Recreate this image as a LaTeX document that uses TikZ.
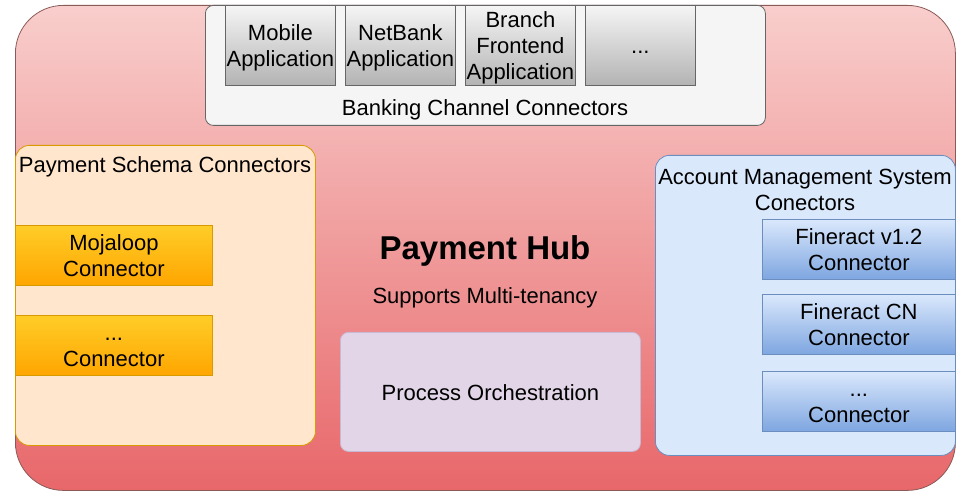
\documentclass[tikz,border=0pt]{standalone}
\usepackage{fontspec}
\setmainfont{Liberation Sans}
\definecolor{hubtop}{HTML}{F8CECC}
\definecolor{hubbot}{HTML}{E8676A}
\definecolor{hubline}{HTML}{8A5A58}
\definecolor{chanfill}{HTML}{F5F5F5}
\definecolor{chanbot}{HTML}{B3B3B3}
\definecolor{chanline}{HTML}{666666}
\definecolor{schemfill}{HTML}{FFE6CC}
\definecolor{schemtop}{HTML}{FFCD28}
\definecolor{schembot}{HTML}{FFA500}
\definecolor{schemline}{HTML}{D79B00}
\definecolor{acctfill}{HTML}{DAE8FC}
\definecolor{acctbot}{HTML}{7EA6E0}
\definecolor{acctline}{HTML}{6C8EBF}
\definecolor{procfill}{HTML}{E1D5E7}
\definecolor{procline}{HTML}{C9B8D3}
\newcommand\boxstrut{\rule[-0.18em]{0pt}{1.1em}}
\tikzset{
  box/.style={anchor=north west, inner sep=0pt, font=\fontsize{11}{13}\selectfont, align=flush center,
    execute at begin node=\boxstrut, execute at end node=\boxstrut},
  appbox/.style={box, text width=55pt, top color=chanfill, bottom color=chanbot, draw=chanline, minimum width=55pt, minimum height=40pt},
  schembox/.style={box, text width=98.5pt, top color=schemtop, bottom color=schembot, draw=schemline, minimum width=98.5pt, minimum height=30pt},
  acctbox/.style={box, text width=96.5pt, top color=acctfill, bottom color=acctbot, draw=acctline, minimum width=96.5pt, minimum height=30pt},
  group/.style={box, rounded corners=7pt, minimum width=150pt, minimum height=150pt},
  label/.style={inner sep=0pt, font=\fontsize{11}{13}\selectfont, align=flush center,
    execute at begin node=\boxstrut, execute at end node=\boxstrut}
}
\begin{document}
\begin{tikzpicture}[x=0.5pt,y=-0.5pt]
  \useasboundingbox (0,0) rectangle (957,491);
  % payment hub
  \node[box, rounded corners=24pt, top color=hubtop, bottom color=hubbot, draw=hubline, minimum width=470pt, minimum height=242.5pt] (hub) at (15,5) {};
  % banking channels
  \node[box, rounded corners=4pt, fill=chanfill, draw=chanline, minimum width=280pt, minimum height=60pt] (channels) at (205,5) {};
  \node[appbox] (mobile) at (225,5) {Mobile\\Application};
  \node[appbox] (netbank) at (345,5) {NetBank\\Application};
  \node[appbox] (branch) at (465,5) {Branch\\Frontend\\Application};
  \node[appbox] (morechan) at (585,5) {...};
  \node[label] (chanlabel) at (485,108) {Banking Channel Connectors};
  % payment schemas
  \node[group, fill=schemfill, draw=schemline] (schemas) at (15,145) {};
  \node[label] (schemlabel) at (165,165) {Payment Schema Connectors};
  \node[schembox] (mojaloop) at (15,225) {Mojaloop\\Connector};
  \node[schembox] (moreschem) at (15,315) {...\\Connector};
  % centre
  \node[label, font=\fontsize{16.5}{19}\selectfont\bfseries] (title) at (485,248) {Payment Hub};
  \node[label] (tenancy) at (485,296) {Supports Multi-tenancy};
  \node[box, rounded corners=4pt, fill=procfill, draw=procline, minimum width=150pt, minimum height=59.5pt] (orch) at (340,332) {Process Orchestration};
  % account management
  \node[group, fill=acctfill, draw=acctline] (accounts) at (655,155) {};
  \node[label, text width=150pt] (acctlabel) at (805,189) {Account Management System\\Conectors};
  \node[acctbox] (fin12) at (762,219) {Fineract v1.2\\Connector};
  \node[acctbox] (fincn) at (762,294) {Fineract CN\\Connector};
  \node[acctbox] (moreacct) at (762,371) {...\\Connector};
\end{tikzpicture}
\end{document}
